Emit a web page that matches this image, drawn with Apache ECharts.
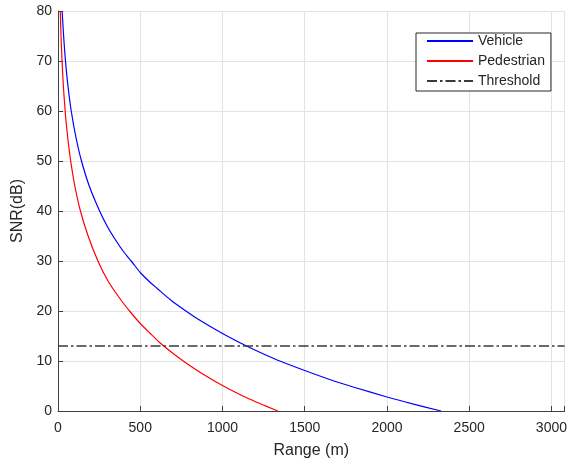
<!DOCTYPE html>
<html>
<head>
<meta charset="utf-8">
<script src="https://cdn.jsdelivr.net/npm/echarts@6/dist/echarts.min.js"></script>
<style>
html,body{margin:0;padding:0;background:#fff;}
#chart{width:570px;height:466px;}
</style>
</head>
<body>
<div id="chart"></div>
<script>
// Range (m) and SNR (dB) readings
var vehicleRange = [25, 35, 47, 62, 81, 108, 142, 190, 253, 300, 350, 400, 450, 500, 558, 600, 685, 760, 850, 1000, 1140, 1250, 1348, 1500, 1652, 1800, 2000, 2150, 2329];
var vehicleSNR   = [80, 74.6, 69.4, 64.6, 59.9, 54.9, 50.1, 45, 40, 36.9, 34.2, 31.8, 29.8, 27.7, 25.8, 24.6, 22.2, 20.4, 18.4, 15.5, 13.1, 11.4, 10, 8.1, 6.3, 4.75, 2.8, 1.47, 0];
var pedRange = [14, 18, 24, 33, 45, 58, 75, 100, 134, 180, 240, 304, 385, 440, 500, 558, 618, 700, 770, 880, 1000, 1150, 1337];
var pedSNR   = [80, 75.4, 70.4, 64.8, 59.4, 55, 50.5, 45.4, 40.3, 35.3, 30.2, 26, 22.1, 19.8, 17.5, 15.6, 13.7, 11.5, 9.8, 7.4, 5.1, 2.6, 0];
var thresholdRange = [0, 3080];
var thresholdSNR = [13, 13];
var seriesNames = ['Vehicle', 'Pedestrian', 'Threshold'];
var xTicks = [0, 500, 1000, 1500, 2000, 2500, 3000];
var yTicks = [0, 10, 20, 30, 40, 50, 60, 70, 80];

function pairs(xs, ys) { return xs.map(function (x, i) { return [x, ys[i]]; }); }

var font = 'Liberation Sans, Arial, sans-serif';
var chart = echarts.init(document.getElementById('chart'), null, {renderer: 'canvas'});
chart.setOption({
  animation: false,
  backgroundColor: '#ffffff',
  textStyle: {fontFamily: font},
  grid: {left: 58, top: 11, right: 5, bottom: 55, containLabel: false},
  legend: {
    orient: 'vertical',
    left: 416, top: 33,
    data: seriesNames,
    itemWidth: 46, itemHeight: 14, itemGap: 6, itemTextGap: 5,
    padding: [1, 6, 3, 10],
    backgroundColor: '#ffffff',
    borderColor: '#262626', borderWidth: 1, borderRadius: 0,
    itemStyle: {opacity: 0},
    textStyle: {fontSize: 14, color: '#262626', fontFamily: font}
  },
  xAxis: {
    type: 'value', min: 0, max: 3080, interval: 500,
    name: 'Range (m)', nameLocation: 'middle', nameGap: 32,
    nameTextStyle: {fontSize: 16, color: '#262626', fontFamily: font},
    axisLine: {show: true, onZero: false, lineStyle: {color: '#404040', width: 1}},
    axisTick: {show: true, inside: true, length: 5, lineStyle: {color: '#404040'}},
    axisLabel: {fontSize: 14, color: '#262626', margin: 10, fontFamily: font,
      formatter: function (v) { return xTicks.indexOf(v) >= 0 ? String(v) : ''; }},
    splitLine: {show: true, lineStyle: {color: '#e3e3e3', width: 1}}
  },
  yAxis: {
    type: 'value', min: 0, max: 80, interval: 10,
    name: 'SNR(dB)', nameLocation: 'middle', nameGap: 30,
    nameTextStyle: {fontSize: 16, color: '#262626', fontFamily: font},
    axisLine: {show: true, onZero: false, lineStyle: {color: '#404040', width: 1}},
    axisTick: {show: true, inside: true, length: 5, lineStyle: {color: '#404040'}},
    axisLabel: {fontSize: 14, color: '#262626', margin: 6, fontFamily: font,
      formatter: function (v) { return yTicks.indexOf(v) >= 0 ? String(v) : ''; }},
    splitLine: {show: true, lineStyle: {color: '#e3e3e3', width: 1}}
  },
  series: [
    {name: seriesNames[0], type: 'line', data: pairs(vehicleRange, vehicleSNR), smooth: 0.25,
      symbol: 'none', showSymbol: false, clip: true, lineStyle: {color: '#0000ff', width: 1.2}, itemStyle: {color: '#0000ff'}},
    {name: seriesNames[1], type: 'line', data: pairs(pedRange, pedSNR), smooth: 0.25,
      symbol: 'none', showSymbol: false, clip: true, lineStyle: {color: '#ff0000', width: 1.2}, itemStyle: {color: '#ff0000'}},
    {name: seriesNames[2], type: 'line', data: pairs(thresholdRange, thresholdSNR),
      symbol: 'none', showSymbol: false, clip: true, lineStyle: {color: '#3a3a3a', width: 1.3, type: [10, 3, 2.5, 3]}, itemStyle: {color: '#3a3a3a'}}
  ]
});
</script>
</body>
</html>
